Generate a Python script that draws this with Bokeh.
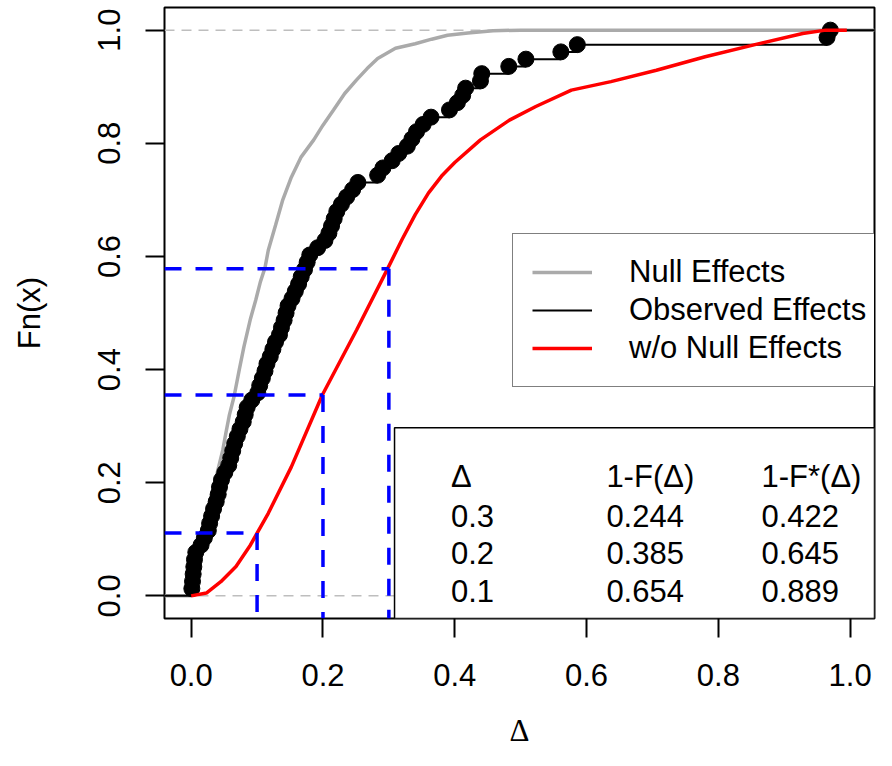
import math
from bokeh.plotting import figure
from bokeh.models import (Range1d, Span, BoxAnnotation, Legend, LegendItem,
                          FixedTicker, PrintfTickFormatter)
from bokeh.core.properties import value
from bokeh.embed import file_html
from bokeh.resources import INLINE

# ---------------- data ----------------
# observed effects (78 sorted values), ECDF heights are i/78
obs_x = [0.001, 0.002, 0.003, 0.004, 0.005, 0.007, 0.015, 0.020, 0.026, 0.028,
         0.031, 0.034, 0.038, 0.041, 0.043, 0.046, 0.051, 0.057, 0.060, 0.063,
         0.066, 0.070, 0.074, 0.079, 0.082, 0.085, 0.092, 0.101, 0.104, 0.108,
         0.112, 0.115, 0.120, 0.124, 0.128, 0.134, 0.137, 0.141, 0.144, 0.147,
         0.153, 0.158, 0.163, 0.167, 0.172, 0.176, 0.180, 0.192, 0.203, 0.209,
         0.213, 0.217, 0.221, 0.228, 0.236, 0.245, 0.253, 0.283, 0.291, 0.305,
         0.315, 0.328, 0.335, 0.342, 0.352, 0.364, 0.392, 0.404, 0.412, 0.4165,
         0.439, 0.441, 0.482, 0.508, 0.561, 0.586, 0.965, 0.970]

# null effects ECDF (traced)
null_x = [0.000, 0.005, 0.012, 0.018, 0.025, 0.033, 0.040, 0.048, 0.053, 0.058,
          0.065, 0.073, 0.080, 0.090, 0.098, 0.105, 0.112, 0.117, 0.128, 0.139,
          0.152, 0.167, 0.186, 0.200, 0.216, 0.233, 0.251, 0.267, 0.283, 0.310,
          0.340, 0.365, 0.389, 0.420, 0.458, 0.500]
null_F = [0.000, 0.040, 0.085, 0.125, 0.155, 0.187, 0.220, 0.258, 0.290, 0.320,
          0.352, 0.400, 0.440, 0.490, 0.523, 0.555, 0.580, 0.611, 0.655, 0.700,
          0.740, 0.776, 0.806, 0.832, 0.859, 0.888, 0.912, 0.932, 0.950, 0.968,
          0.976, 0.984, 0.991, 0.995, 0.999, 1.000]

# distribution without null effects (F*)
fstar_x = [0.000, 0.023, 0.045, 0.068, 0.090, 0.100, 0.117, 0.152, 0.199, 0.251,
           0.298, 0.320, 0.340, 0.360, 0.380, 0.400, 0.439, 0.483, 0.523, 0.577,
           0.637, 0.706, 0.780, 0.854, 0.928, 0.963, 0.995]
fstar_F = [0.000, 0.005, 0.025, 0.052, 0.090, 0.111, 0.146, 0.228, 0.355, 0.470,
           0.578, 0.630, 0.674, 0.712, 0.742, 0.766, 0.806, 0.841, 0.865, 0.894,
           0.909, 0.929, 0.953, 0.974, 0.994, 1.000, 1.000]

# table
table_delta = [0.3, 0.2, 0.1]
table_1mF = [0.244, 0.385, 0.654]
table_1mFstar = [0.422, 0.645, 0.889]
table_header = ["\u0394", "1-F(\u0394)", "1-F*(\u0394)"]

x_ticks = [0.0, 0.2, 0.4, 0.6, 0.8, 1.0]
y_ticks = [0.0, 0.2, 0.4, 0.6, 0.8, 1.0]

legend_labels = ["Null Effects", "Observed Effects", "w/o Null Effects"]
x_title = "\u0394"
y_title = "Fn(x)"

# ---------------- styling ----------------
FONT = "Liberation Sans"
FS = "31px"
GREY = "#AAAAAA"
XMIN, XMAX = -0.0405, 1.037
YMIN, YMAX = -0.04, 1.04

p = figure(width=876, height=750, output_backend="svg", toolbar_location=None,
           x_range=Range1d(XMIN, XMAX), y_range=Range1d(YMIN, YMAX),
           min_border_left=164, min_border_right=2, min_border_top=7,
           min_border_bottom=131)
p.xgrid.visible = False
p.ygrid.visible = False
p.outline_line_color = "black"
p.outline_line_width = 2
p.background_fill_color = "white"
p.border_fill_color = "white"

for ax, ticks in ((p.xaxis[0], x_ticks), (p.yaxis[0], y_ticks)):
    ax.ticker = FixedTicker(ticks=ticks)
    ax.formatter = PrintfTickFormatter(format="%.1f")
    ax.axis_line_color = None
    ax.major_tick_in = 0
    ax.major_tick_out = 19
    ax.major_tick_line_width = 2
    ax.major_tick_line_color = "black"
    ax.minor_tick_line_color = None
    ax.major_label_text_font = FONT
    ax.major_label_text_font_size = FS
    ax.major_label_text_color = "black"
    ax.axis_label_text_font_style = "normal"
    ax.axis_label_text_color = "black"
p.yaxis[0].major_label_orientation = "vertical"
p.xaxis[0].major_label_standoff = 26
p.yaxis[0].major_label_standoff = 25

p.xaxis[0].axis_label = x_title
p.xaxis[0].axis_label_text_font = "Liberation Serif"
p.xaxis[0].axis_label_text_font_size = "31px"
p.xaxis[0].axis_label_standoff = 24
p.yaxis[0].axis_label = y_title
p.yaxis[0].axis_label_text_font = FONT
p.yaxis[0].axis_label_text_font_size = FS
p.yaxis[0].axis_label_standoff = 49

# reference lines at 0 and 1
for yv in (0.0, 1.0):
    p.add_layout(Span(location=yv, dimension="width", line_color="#BEBEBE",
                      line_width=1.5, line_dash="10 7", level="underlay"))

# null ECDF (grey)
gx = [XMIN] + null_x + [XMAX]
gy = [0.0] + null_F + [null_F[-1]]
r_null = p.line(gx, gy, line_color=GREY, line_width=3.5)

# observed ECDF (black steps + points)
n = len(obs_x)
obs_F = [(i + 1) / n for i in range(n)]
seg_x0 = [XMIN] + obs_x
seg_x1 = obs_x + [XMAX]
seg_y = [0.0] + obs_F
r_obs = p.segment(x0=seg_x0, y0=seg_y, x1=seg_x1, y1=seg_y, line_color="black",
                  line_width=2)
p.scatter(obs_x, obs_F, size=16, fill_color="black", line_color="black")

# F* (red)
r_star = p.line(fstar_x, fstar_F, line_color="#FF0000", line_width=3.5)

# blue dashed guides at the table deltas
fy = [1 - v for v in table_1mFstar]
p.segment(x0=[XMIN] * len(table_delta), y0=fy, x1=table_delta, y1=fy,
          line_color="#0000FF", line_width=3.5, line_dash="17 14")
p.segment(x0=table_delta, y0=fy, x1=table_delta, y1=[YMIN] * len(table_delta),
          line_color="#0000FF", line_width=3.5, line_dash="17 14")

# table box (bottom-right)
p.add_layout(BoxAnnotation(left=0.3086, top=0.297, fill_color="white", fill_alpha=1,
                           line_color="black", line_alpha=1, line_width=1.5,
                           level="underlay"))
col_x = [0.3942, 0.6301, 0.8655]
header_y = 0.2108
row_y = [0.1419, 0.0754, 0.0094]
tx, ty, tt = [], [], []
for j in range(3):
    tx.append(col_x[j]); ty.append(header_y); tt.append(table_header[j])
for i in range(len(table_delta)):
    vals = [f"{table_delta[i]:.1f}", f"{table_1mF[i]:.3f}", f"{table_1mFstar[i]:.3f}"]
    for j in range(3):
        tx.append(col_x[j]); ty.append(row_y[i]); tt.append(vals[j])
p.text(x=tx, y=ty, text=tt, text_font=value(FONT), text_font_size=value(FS),
       text_color="black", text_align="left", text_baseline="alphabetic")

# legend
legend = Legend(items=[LegendItem(label=legend_labels[0], renderers=[r_null]),
                       LegendItem(label=legend_labels[1], renderers=[r_obs]),
                       LegendItem(label=legend_labels[2], renderers=[r_star])],
                location=(348, 231), margin=0, padding=19, spacing=0,
                glyph_width=60, glyph_height=38, label_height=38, label_standoff=37,
                label_text_font=FONT, label_text_font_size=FS,
                label_text_color="black",
                border_line_color="black", border_line_width=1.5,
                background_fill_color="white", background_fill_alpha=1)
p.add_layout(legend)

open("out.html", "w").write(file_html(p, INLINE))
